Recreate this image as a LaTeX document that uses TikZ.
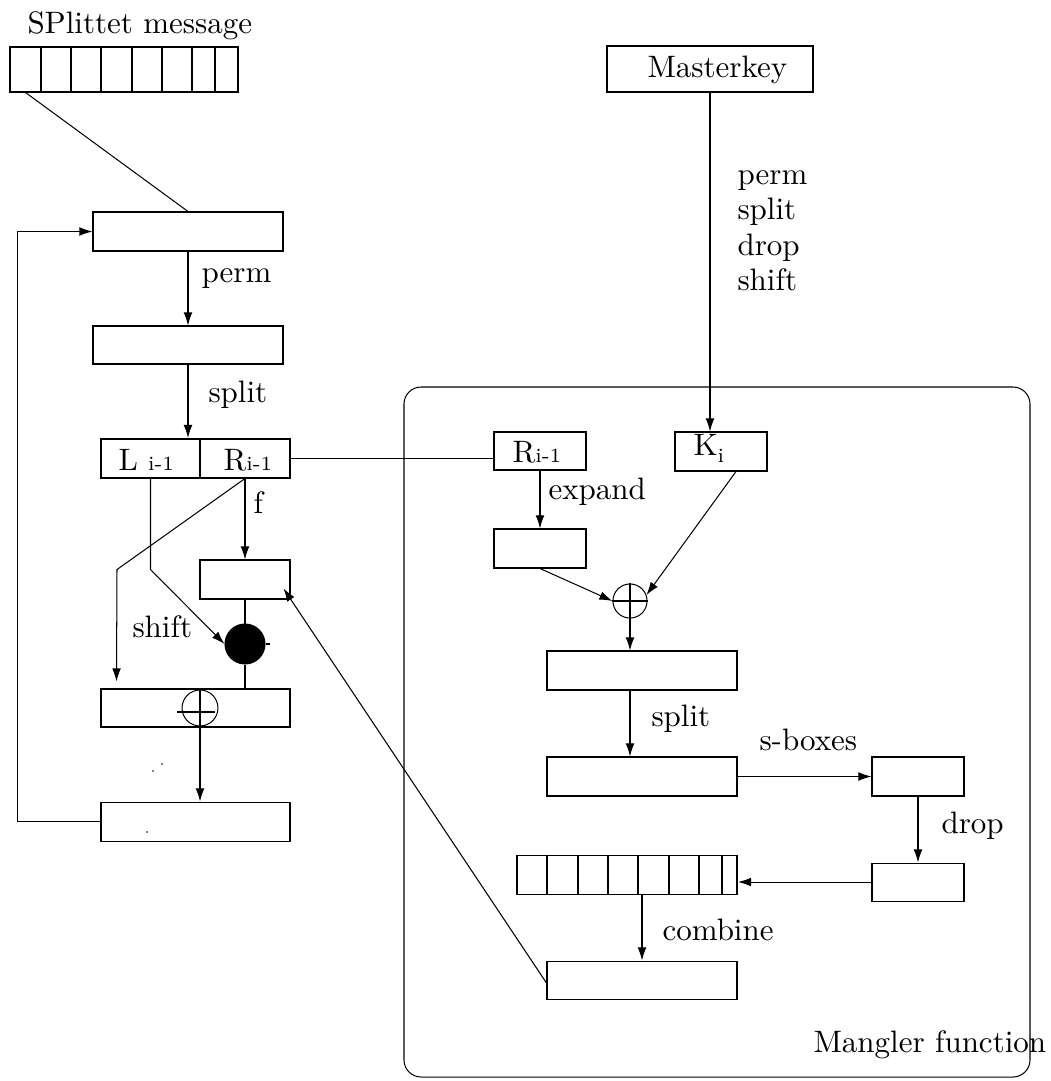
\documentclass[tikz,border=0pt]{standalone}
\usetikzlibrary{arrows.meta,fit,calc}
\newcommand\subtxt[1]{{\fontsize{6.5}{7}\selectfont #1}}
\begin{document}
\begin{tikzpicture}[x=0.3226pt,y=-0.3226pt,line width=0.33pt,
  box/.style={draw,rectangle,inner sep=0pt},
  arr/.style={-{Latex[length=4.2pt,width=2.8pt]}},
  lbl/.style={anchor=base west,inner sep=0pt}]
\useasboundingbox (0,0) rectangle (1050,1081);

% ---------- left column ----------
\node[lbl] (title) at (27,33) {SPlittet message};
\foreach \a/\b [count=\i] in {10/41,41/71,71/101,101/132,132/162,162/192,192/215,215/238}
  \node[box,fit={(\a,47)(\b,92)}] (m\i) {};

\node[box,fit={(93,212)(283,251)}] (b1) {};
\node[box,fit={(93,326)(283,364)}] (b2) {};
\node[box,fit={(101,439)(200,478)}] (L) {};
\node[box,fit={(200,439)(290,478)}] (R) {};
\node[inner sep=0pt,fit=(L)(R)] (lr) {};
\node[lbl] (Ltxt) at (118,470) {L \subtxt{i-1}};
\node[lbl] (Rtxt) at (223,470) {R\subtxt{i-1}};
\node[box,fit={(200,560)(290,599)}] (fb) {};
\node[circle,draw,fill=black,minimum size=12.9pt,inner sep=0pt] (bc) at (245,644) {};
\node[box,fit={(101,689)(290,727)}] (xb) {};
\node[circle,draw,minimum size=11.6pt,inner sep=0pt] (xl) at (200,708) {};
\node[box,fit={(101,802)(290,841)}] (bb) {};

\draw (xl.north) -- (xl.south);
\draw ($(xl.west)+(-5,4)$) -- ($(xl.east)+(-3,4)$);

\node[lbl] (lperm) at (201,282) {perm};
\node[lbl] (lsplit) at (208,402) {split};
\node[lbl] (lf) at (253,513) {f};
\node[lbl] (lshift) at (132,637) {shift};

\fill (153,771) circle (0.8) (162,764) circle (0.8) (147,832) circle (0.8);

\draw (m1.south) -- (b1.north);
\draw[arr] (b1.south) -- (b2.north);
\draw[arr] (b2.south) -- (b2.south |- lr.north);
\draw[arr] (L.south) -- ++(0,91) -- (bc.west);
\draw[arr] (R.south) -- (fb.north);
\draw[arr] (R.south) -- ++(-128,91) -- ($(xb.north west)+(16,-7)$);
\draw (fb.south) -- (bc.north);
\draw (bc.south) -- (bc.south |- xb.north);
\draw (bc.east) -- ++(4,0);
\draw[arr] (xl.south) -- (xl.south |- bb.north);
\draw[arr] (bb.west) -- ++(-83,0) |- (b1.west);

% ---------- right part ----------
\node[box,fit={(607,46)(813,92)}] (mk) {};
\node[lbl] (mktxt) at (647,77) {Masterkey};
\node[lbl] (kperm) at (737,184) {perm};
\node[lbl] (ksplit) at (737,219) {split};
\node[lbl] (kdrop) at (737,255) {drop};
\node[lbl] (kshift) at (737,290) {shift};

\node[draw,rounded corners=5.5pt,inner sep=0pt,fit={(404,387)(1030,1077)}] (mang) {};
\node[lbl] (mangtxt) at (813,1052) {Mangler function};

\node[box,fit={(494,432)(586,470)}] (rr) {};
\node[lbl] (rrtxt) at (512,462) {R\subtxt{i-1}};
\node[box,fit={(675,432)(767,471)}] (kb) {};
\node[lbl] (kbtxt) at (693,455) {K\raisebox{-2.5pt}{\subtxt{i}}};
\node[box,fit={(494,529)(586,568)}] (eb) {};
\node[lbl] (lexpand) at (548,499) {expand};
\node[circle,draw,minimum size=11pt,inner sep=0pt] (xc) at (630,601) {};
\draw (xc.north) -- (xc.south) (xc.west) -- (xc.east);
\node[box,fit={(547,651)(737,690)}] (s3) {};
\node[lbl] (rsplit) at (651,726) {split};
\node[box,fit={(547,757)(737,796)}] (s4) {};
\node[lbl] (lsbox) at (759,750) {s-boxes};
\node[box,fit={(872,757)(964,796)}] (sb) {};
\node[lbl] (ldrop) at (941,833) {drop};
\node[box,fit={(872,863)(964,901)}] (db) {};
\foreach \a/\b [count=\i] in {517/547,547/578,578/608,608/638,638/669,669/699,699/722,722/737}
  \node[box,fit={(\a,855)(\b,894)}] (a\i) {};
\draw[line width=0.6pt] (a2.north west) -- (a2.south west);
\node[inner sep=0pt,fit=(a1)(a8)] (arr) {};
\node[lbl] (lcomb) at (662,940) {combine};
\node[box,fit={(547,961)(737,999)}] (fin) {};

\draw (lr.east) -- (lr.east -| rr.west);
\draw[arr] (mk.south) -- (mk.south |- kb.north);
\draw[arr] (rr.south) -- (eb.north);
\draw[arr] (eb.south) -- (xc.west);
\draw[arr] ($(kb.south)+(15,0)$) -- (xc.20);
\draw[arr] (xc.south) -- (xc.south |- s3.north);
\draw[arr] (xc |- s3.south) -- (xc |- s4.north);
\draw[arr] (s4.east) -- (sb.west);
\draw[arr] (sb.south) -- (db.north);
\draw[arr] (db.west) -- (db.west -| arr.east);
\draw[arr] (fin.north |- arr.south) -- (fin.north);
\draw[arr] ($(fin.west)+(0,3)$) -- ($(fb.east)+(-7,9)$);
\end{tikzpicture}
\end{document}
